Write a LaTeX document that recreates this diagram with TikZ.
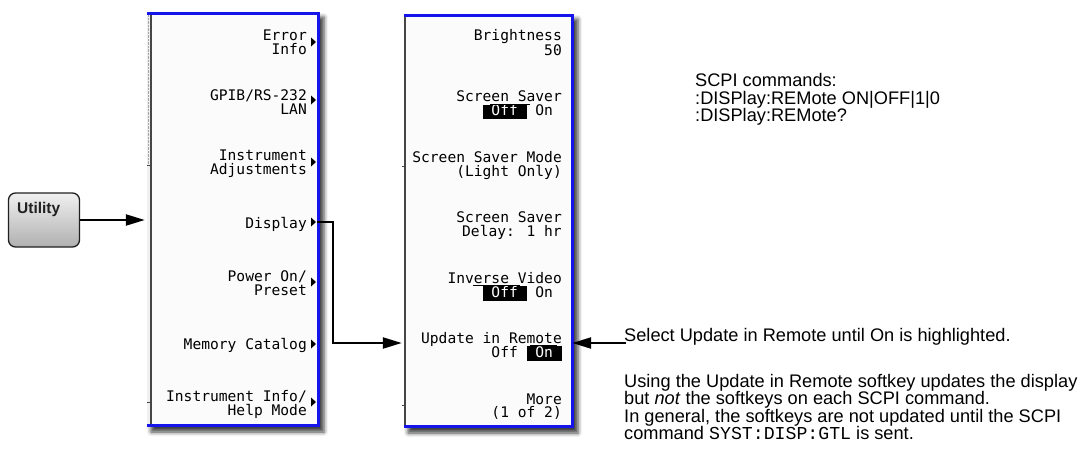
\documentclass[tikz,border=0pt]{standalone}
\usepackage{fontspec}
\setmainfont{Liberation Sans}
\newfontfamily\keyfont{DejaVu Sans Mono}
\newfontfamily\codefont{Liberation Mono}
\usetikzlibrary{arrows.meta,shadows.blur,calc}
\definecolor{panelblue}{RGB}{20,20,235}
\definecolor{edgegray}{RGB}{70,70,70}
\definecolor{panelfill}{RGB}{251,251,251}
\newcommand{\hlbox}[1]{{\setlength{\fboxsep}{0pt}\colorbox{black}{\rule[-3.5pt]{0pt}{13pt}\textcolor{white}{#1}}}}
\newcommand{\keytri}[1]{\fill (311,#1-4.5) -- (316,#1) -- (311,#1+4.5) -- cycle;}
\begin{document}
\begin{tikzpicture}[x=1pt,y=-1pt,
  keytxt/.style={font=\keyfont\fontsize{14.6}{14}\selectfont, anchor=base east, inner sep=0pt},
  notetxt/.style={font=\fontsize{18.2}{17.5}\selectfont, anchor=base west, inner sep=0pt},
  panelbox/.style={draw=none, fill=panelfill, inner sep=0pt,
     blur shadow={shadow xshift=4pt,shadow yshift=-5pt,shadow blur radius=4pt,shadow opacity=75}},
  blueedge/.style={draw=panelblue, line width=3pt},
  darkedge/.style={draw=edgegray, line width=1.1pt},
  conn/.style={draw=black, line width=2.2pt},
  arrowconn/.style={conn, -{Triangle[length=19pt,width=11pt]}},
  ubtn/.style={rounded corners=7pt, draw=gray!25!black, line width=1.3pt,
     top color=gray!12, bottom color=gray!62, minimum width=71pt, minimum height=54pt, inner sep=0pt},
  uline/.style={draw=black, line width=0.8pt}
]
\useasboundingbox (0,0) rectangle (1089,466);

% ---------- Utility hardkey ----------
\node[ubtn] (ub) at (44,220) {};
\node[anchor=base west, inner sep=0pt, font=\bfseries\fontsize{15.5}{16}\selectfont, text=gray!25!black] (ut) at (17,213) {Utility};

% ---------- left panel ----------
\node[panelbox, minimum width=173pt, minimum height=415pt] (lp) at (233.5,219.5) {};
\fill[gray!12] (147,12) rectangle (151,427);
\draw[densely dotted, gray!70] (148.5,15) -- (148.5,165);
\draw[edgegray, line width=0.6pt] (147,165) -- (151,165);
\draw[edgegray, line width=0.6pt] (147,402) -- (151,402);
\draw[darkedge] (151,13) -- (151,426);
\draw[blueedge] (147,13.5) -- (318.5,13.5) -- (318.5,425.5) -- (147,425.5);

\node[keytxt] (k1a) at (307,40) {Error};
\node[keytxt] (k1b) at (307,54) {Info};
\keytri{42}
\node[keytxt] (k2a) at (307,100) {GPIB/RS-232};
\node[keytxt] (k2b) at (307,114) {LAN};
\keytri{100}
\node[keytxt] (k3a) at (307,160.5) {Instrument};
\node[keytxt] (k3b) at (307,174.5) {Adjustments};
\keytri{162}
\node[keytxt] (k4) at (307,228) {Display};
\keytri{222}
\node[keytxt] (k5a) at (307,281.5) {Power On/};
\node[keytxt] (k5b) at (307,295.5) {Preset};
\keytri{282}
\node[keytxt] (k6) at (307,349) {Memory Catalog};
\keytri{344}
\node[keytxt] (k7a) at (307,401.5) {Instrument Info/};
\node[keytxt] (k7b) at (307,415.5) {Help Mode};
\keytri{402}

% ---------- right panel ----------
\node[panelbox, minimum width=170pt, minimum height=414pt] (rp) at (489,221) {};
\draw[edgegray, line width=0.6pt] (402,166) -- (405,166);
\draw[edgegray, line width=0.6pt] (402,405) -- (405,405);
\draw[darkedge] (405,15) -- (405,427);
\draw[blueedge] (404,15.5) -- (572.5,15.5) -- (572.5,426.5) -- (404,426.5);

\node[keytxt] (r1a) at (562,40.7) {Brightness};
\node[keytxt] (r1b) at (562,55) {50};
\node[keytxt] (r2a) at (562,101.7) {Screen Saver};
\node[keytxt] (r2b) at (562,115.7) {\hlbox{~Off~}~On\phantom{O}};
\draw[uline] (490,104) -- (530,104);
\node[keytxt] (r3a) at (562,162.3) {Screen Saver Mode};
\node[keytxt] (r3b) at (562,176.5) {(Light Only)};
\node[keytxt] (r4a) at (562,222.7) {Screen Saver};
\node[keytxt] (r4b) at (562,236.5) {Delay: 1 hr};
\node[keytxt] (r5a) at (562,283) {Inverse Video};
\node[keytxt] (r5b) at (562,297) {\hlbox{~Off~}~On\phantom{O}};
\draw[uline] (473,285.5) -- (520,285.5);
\node[keytxt] (r6a) at (562,343.3) {Update in Remote};
\node[keytxt] (r6b) at (562,357.3) {Off~\hlbox{~On~}};
\draw[uline] (530,345.5) -- (557,345.5);
\node[keytxt] (r7a) at (562,404) {More};
\node[keytxt] (r7b) at (562,417.5) {(1 of 2)};

% ---------- notes ----------
\node[notetxt] (s1) at (695,86.5) {SCPI commands:};
\node[notetxt] (s2) at (695,104) {:DISPlay:REMote ON|OFF|1|0};
\node[notetxt] (s3) at (695,121.5) {:DISPlay:REMote?};

\node[notetxt] (sel) at (624,341) {Select Update in Remote until On is highlighted.};

\node[notetxt] (n1) at (624,387) {Using the Update in Remote softkey updates the display};
\node[notetxt] (n2) at (624,404.5) {but \textit{not} the softkeys on each SCPI command.};
\node[notetxt] (n3) at (624,422) {In general, the softkeys are not updated until the SCPI};
\node[notetxt] (n4) at (624,439.5) {command {\codefont SYST:DISP:GTL} is sent.};

% ---------- connectors ----------
\coordinate (dtip) at (317,222);
\coordinate (dbend) at (333,222);
\coordinate (updrow) at (489,343);
\draw[arrowconn, shorten >=2pt] (ub.east) -- (ub.east -| lp.west);
\draw[arrowconn, shorten >=2pt] (dtip) -- (dbend) |- (updrow -| rp.west);
\draw[arrowconn, shorten >=-2pt, shorten <=-2pt] (sel.west |- updrow) -- (updrow -| rp.east);
\end{tikzpicture}
\end{document}
